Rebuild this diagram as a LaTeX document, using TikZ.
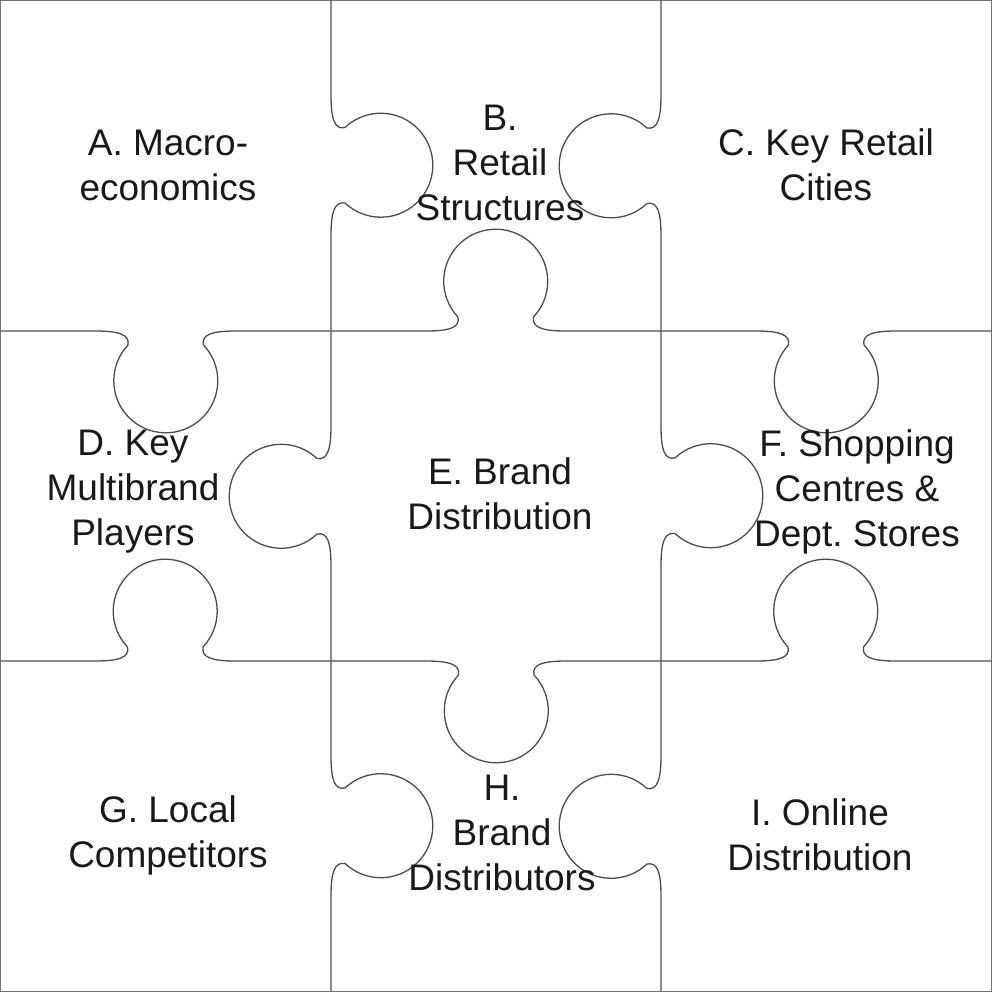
\documentclass[tikz,border=0pt]{standalone}
\usepackage{fontspec}
\setmainfont{Liberation Sans}
\begin{document}
\begin{tikzpicture}[x=0.5pt,y=0.5pt,
  edge/.style={draw=black!70,line width=0.65pt},
  lbl/.style={align=center,font=\fontsize{18.5}{22.5}\selectfont,text=black!90}]
\useasboundingbox (0,0) rectangle (992,-992);
\draw[edge,draw=black!55] (0.6,-0.6) rectangle (991.4,-991.4);
\newcommand{\knobedge}[3]{%
  \begin{scope}[shift={(#1,-#2)},rotate=#3]
  \draw[edge] (-165,0) -- (-70,0) .. controls (-45,0) and (-36,4) .. (-38,14)
    arc[start angle=223.5,end angle=-43.5,radius=52]
    .. controls (36,4) and (45,0) .. (70,0) -- (165,0);
  \end{scope}}
\knobedge{331}{165.5}{-90}
\knobedge{661}{165.5}{90}
\knobedge{496}{331}{0}
\knobedge{165.5}{331}{180}
\knobedge{826}{331}{180}
\knobedge{331}{496}{90}
\knobedge{661}{496}{-90}
\knobedge{165.5}{661}{0}
\knobedge{826}{661}{0}
\knobedge{496}{661}{180}
\knobedge{331}{826}{-90}
\knobedge{661}{826}{90}
\node[lbl] (a) at (168,-165) {A. Macro-\\economics};
\node[lbl] (b) at (500,-163) {B.\\Retail\\Structures};
\node[lbl] (c) at (826,-165) {C. Key Retail\\Cities};
\node[lbl] (d) at (133,-492) {D. Key\\Multibrand\\Players};
\node[lbl] (e) at (500,-494) {E. Brand\\Distribution};
\node[lbl] (f) at (857,-492) {F. Shopping\\Centres \&\\Dept.~Stores};
\node[lbl] (g) at (168,-835) {G. Local\\Competitors};
\node[lbl] (h) at (502,-833) {H.\\Brand\\Distributors};
\node[lbl] (i) at (820,-835) {I. Online\\Distribution};
\end{tikzpicture}
\end{document}
